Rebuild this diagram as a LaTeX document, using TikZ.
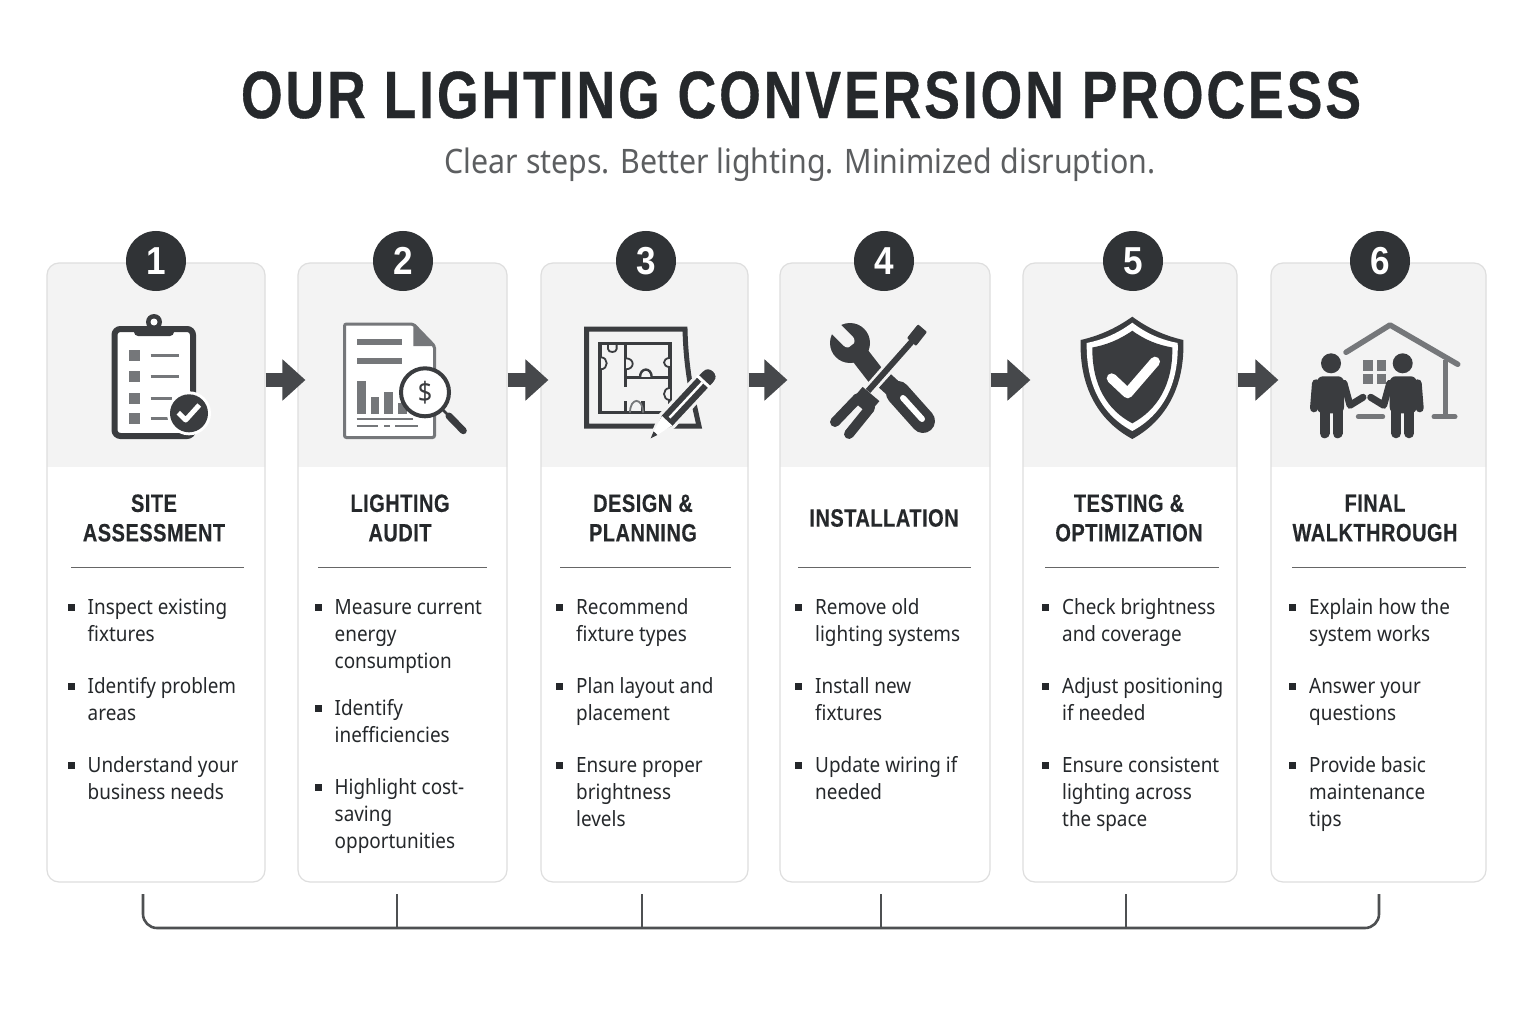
\documentclass[tikz,border=0pt]{standalone}
\usepackage{fontspec}
\setmainfont[FakeStretch=0.9]{Noto Sans}
\newfontfamily\headfont[FakeStretch=0.8,LetterSpace=2,BoldFeatures={FakeBold=0.3}]{Liberation Sans}
\newfontfamily\titlefont[FakeStretch=0.8,LetterSpace=4.3,BoldFeatures={FakeBold=0.5}]{Liberation Sans}
\newfontfamily\badgefont[FakeStretch=0.9]{Liberation Sans}
\usetikzlibrary{positioning,arrows.meta,shapes.geometric}

\begin{document}
\begin{tikzpicture}[x=1pt,y=-1pt]
  % some colors
  \definecolor{ink}{HTML}{25282B}
  \definecolor{icondark}{HTML}{3A3C3F}
  \definecolor{icongray}{HTML}{75777A}
  \definecolor{subgray}{HTML}{5C5E60}
  \definecolor{bandgray}{HTML}{F3F3F3}
  \definecolor{cardline}{HTML}{DEDEDE}
  \definecolor{arrowgray}{HTML}{46484B}
  % some styles
  \tikzset{
    card/.style={
      rectangle,
      rounded corners=12pt,
      minimum height=619pt,
      inner sep=0pt,
      draw=cardline,
      line width=1.2pt,
      fill=white,
      path picture={
        \fill[bandgray,sharp corners] (path picture bounding box.north west) rectangle ++(300pt,-204pt);
      },
    },
    badge/.style={
      circle,
      minimum size=60pt,
      inner sep=0pt,
      fill=ink!95!white,
      text=white,
      font=\fontsize{39}{39}\selectfont\badgefont\bfseries,
    },
    steptitle/.style={
      align=center,
      inner sep=0pt,
      text=ink,
      font=\fontsize{25}{29.5}\selectfont\headfont\bfseries,
    },
    rulerline/.style={gray!80!black, line width=1pt},
    stepbullet/.style={rectangle, fill=ink, minimum size=7pt, inner sep=0pt},
    stepitem/.style={
      anchor=north west,
      align=left,
      inner sep=0pt,
      text=ink,
      font=\fontsize{21}{27}\selectfont,
    },
    flow/.style={
      arrowgray,
      line width=14pt,
      shorten >=-8pt,
      -{Triangle[length=23pt,width=40pt]},
    },
    rail/.style={icondark!90!white, line width=2.6pt},
    thinbar/.style={icongray, line width=3pt},
    person/.pic={
      \fill[icondark] (0,0) circle (10);
      \fill[icondark,rounded corners=6pt] (-14,13) rectangle (13,50);
      \draw[icondark,line width=10pt,line cap=round] (-6.5,48) -- (-6.5,70);
      \draw[icondark,line width=10pt,line cap=round] (6.5,48) -- (6.5,70);
      \draw[icondark,line width=8pt,line cap=round] (-15,20) -- (-17,45);
      \draw[icondark,line width=7pt,line cap=round,line join=round] (13,20) -- (19,42) -- (32,34);
    },
  }
  % page
  \path[use as bounding box,fill=white] (0,0) rectangle (1536,1024);
  % heading
  \node[inner sep=0pt,text=ink,font=\fontsize{67}{67}\selectfont\titlefont\bfseries] (title) at (801,95) {OUR LIGHTING CONVERSION PROCESS};
  \node[inner sep=0pt,text=subgray,font=\fontsize{33.7}{33.7}\selectfont] (subtitle) at (800,165) {Clear steps. Better lighting. Minimized disruption.};
  % the six cards with their numbers
  \foreach \n/\cx/\w/\bx in {1/156/218/156,2/402.5/209/403,3/644.5/207/646,4/885/210/884,5/1130/214/1133,6/1378.5/215/1380} {
    \node[card,minimum width=\w pt] (card\n) at (\cx,572.5) {};
    \node[badge] (badge\n) at (\bx,261) {\n};
  }
  % titles
  \node[steptitle] (title1) at (154,518) {SITE\\ASSESSMENT};
  \node[steptitle] (title2) at (400,518) {LIGHTING\\AUDIT};
  \node[steptitle] (title3) at (643,518) {DESIGN \&\\PLANNING};
  \node[steptitle] (title4) at (884,518) {INSTALLATION};
  \node[steptitle] (title5) at (1129,518) {TESTING \&\\OPTIMIZATION};
  \node[steptitle] (title6) at (1375,518) {FINAL\\WALKTHROUGH};
  \foreach \a/\b in {71/244,318/487,560/731,798/971,1045/1219,1292/1466}
    \draw[rulerline] (\a,567.5) -- (\b,567.5);
  % bullet lists
  \foreach \n/\x/\yy/\txt in {
    11/71/607/{Inspect existing\\fixtures},
    12/71/686/{Identify problem\\areas},
    13/71/765/{Understand your\\business needs},
    21/318/607/{Measure current\\energy\\consumption},
    22/318/708/{Identify\\inefficiencies},
    23/318/787/{Highlight cost-\\saving\\opportunities},
    31/559.5/607/{Recommend\\fixture types},
    32/559.5/686/{Plan layout and\\placement},
    33/559.5/765/{Ensure proper\\brightness\\levels},
    41/798.5/607/{Remove old\\lighting systems},
    42/798.5/686/{Install new\\fixtures},
    43/798.5/765/{Update wiring if\\needed},
    51/1045.5/607/{Check brightness\\and coverage},
    52/1045.5/686/{Adjust positioning\\if needed},
    53/1045.5/765/{Ensure consistent\\lighting across\\the space},
    61/1292.5/607/{Explain how the\\system works},
    62/1292.5/686/{Answer your\\questions},
    63/1292.5/765/{Provide basic\\maintenance\\tips}} {
    \node[stepbullet] (b\n) at (\x,\yy) {};
    \node[stepitem] (i\n) at ([xshift=16.5pt,yshift=11.9pt]b\n.center) {\strut\txt};
  }
  % arrows between the cards
  \coordinate (midline) at (0,380);
  \foreach \a/\b in {1/2,2/3,3/4,4/5,5/6}
    \draw[flow] (card\a.east |- midline) -- (card\b.west |- midline);
  % bracket under the cards
  \coordinate (railbase) at (0,928);
  \foreach \n/\x in {1/143,2/397,3/642,4/881,5/1126,6/1379}
    \coordinate (tick\n) at (\x,894);
  \draw[rail,rounded corners=14pt] (tick1) -- (tick1 |- railbase) -- (tick6 |- railbase) -- (tick6);
  \foreach \n in {2,...,5}
    \draw[rail] (tick\n) -- (tick\n |- railbase);

  % icon 1 : clipboard
  \draw[icondark,fill=white,line width=6pt,rounded corners=6pt] (114.5,329) rectangle (193,436);
  \fill[icondark] (154,322) circle (8);
  \fill[icondark,rounded corners=4pt] (134,326) rectangle (174,336);
  \fill[white] (154,322) circle (3.5);
  \foreach \yy/\e in {355/179.3,376/179.3,398/172,418/172} {
    \fill[icongray] (129,\yy-5.5) rectangle (140,\yy+5.5);
    \draw[thinbar] (150.7,\yy) -- (\e,\yy);
  }
  \fill[white] (189,413.3) circle (22);
  \fill[icondark] (189,413.3) circle (19);
  \draw[white,line width=5pt,line join=round] (178.3,412.7) -- (185.7,420) -- (199.3,405);

  % icon 2 : report with magnifier
  \draw[icongray,fill=white,line width=3pt,rounded corners=2pt] (344.5,324) -- (413.3,324) -- (434.5,346) -- (434.5,437.5) -- (344.5,437.5) -- cycle;
  \fill[icongray] (413.3,323) -- (435.7,346) -- (413.3,346) -- cycle;
  \fill[icongray] (357.3,339.3) rectangle (401.7,345.3);
  \fill[icongray] (357.3,358) rectangle (401.7,363.7);
  \fill[icongray] (356.7,380.7) rectangle (365.7,414);
  \fill[icongray] (370.7,396.7) rectangle (379,414);
  \fill[icongray] (384.3,392) rectangle (392.7,414);
  \fill[icongray] (397.7,403.3) rectangle (406.7,414);
  \draw[icongray,line width=1.6pt] (356.7,419) -- (412.7,419);
  \draw[icongray,line width=1.6pt] (356.7,426) -- (378.3,426) (384.3,426) -- (390,426) (395,426) -- (418.3,426);
  \draw[icondark,line width=2.5pt] (443,410) -- (449,416);
  \draw[icondark,line width=7pt,line cap=round] (449,416) -- (463.3,430.7);
  \draw[icondark,fill=white,line width=4pt] (425,392.3) circle (24);
  \node[inner sep=0pt,text=icondark,font=\fontsize{28}{28}\selectfont] (dollar) at (425,392.3) {\$};

  % icon 3 : floor plan with pencil
  \draw[icondark,line width=5pt] (586.5,329) -- (685,329) .. controls (686,370) and (692,395) .. (699,426) -- (586.5,426) -- cycle;
  \draw[icondark,line width=3.5pt] (600,343.3) rectangle (670,412.7);
  \draw[icondark,line width=3.5pt] (625.7,343.3) -- (625.7,386.7) (625.7,377.3) -- (670,377.3);
  \draw[icondark,line width=3.5pt] (625.7,401) -- (625.7,412.7) (643,401) -- (643,412.7);
  % doors
  \draw[icondark,fill=bandgray,line width=1.8pt] (600.7,357.3) .. controls (608.7,357.3) and (608.7,369.3) .. (600.7,369.3);
  \draw[icondark,fill=bandgray,line width=1.8pt] (608,345) -- (608,349) .. controls (608,353) and (616.6,353) .. (616.6,349) -- (616.6,345);
  \draw[icondark,fill=bandgray,line width=1.8pt] (625.7,358.3) .. controls (635,358.3) and (635,369.3) .. (625.7,369.3);
  \draw[icondark,fill=bandgray,line width=1.8pt] (670,358) .. controls (662,358) and (662,367) .. (670,367);
  \draw[icondark,fill=bandgray,line width=1.8pt] (670,388) .. controls (662,388) and (662,400) .. (670,400);
  \draw[icondark,fill=bandgray,line width=2.4pt] (640,377.3) .. controls (640,367) and (651.7,367) .. (651.7,377.3);
  \draw[icondark!70!white,line width=1.8pt] (630,412.7) .. controls (630,397) and (643,397) .. (643,412.7);
  % pencil
  \begin{scope}[shift={(650.7,438.3)},rotate=47]
    \draw[bandgray,fill=icondark,line width=3pt,line join=round] (0,0) -- (24,-9) -- (84,-9) .. controls (96,-9) and (96,9) .. (84,9) -- (24,9) -- cycle;
    \fill[white] (7,-2.6) -- (24,-7) -- (24,7) -- (7,2.6) -- cycle;
    \fill[icondark] (0,0) -- (7,-2.6) -- (7,2.6) -- cycle;
    \fill[white] (28,-1.5) rectangle (76,1);
    \fill[white] (76,-9) rectangle (79,9);
  \end{scope}

  % icon 4 : wrench and screwdriver
  \fill[icondark] (850,343) circle (20);
  \draw[bandgray,line width=13pt,line cap=round] (848,341) -- (826,319);
  \draw[icondark,line width=19pt] (852,345) -- (876,376);
  \draw[icondark,line width=24pt,line cap=round] (898,393) -- (923,421);
  \draw[icondark,line width=18pt] (885,381) -- (896,391);
  \draw[white,line width=6pt,line cap=round] (903,398) -- (922,419);
  \draw[bandgray,line width=11pt] (908,345) -- (868,391);
  \draw[icondark,line width=6pt] (911.7,341.7) -- (868,391);
  \fill[icondark,rounded corners=1pt] (918,324.3) -- (927,332) -- (916,346) -- (907,338) -- cycle;
  \draw[icondark,line width=22pt,line cap=butt] (871,394) -- (860,407);
  \draw[icondark,line width=10pt,line cap=round] (858,398) -- (835,422);
  \draw[icondark,line width=10pt,line cap=round] (870,408) -- (849,434);

  % icon 5 : shield
  \fill[icondark] (1132.3,316.7) .. controls (1115,329) and (1098,336) .. (1080.7,340) .. controls (1079,385) and (1097,420) .. (1132.3,439) .. controls (1167,420) and (1185,385) .. (1183.3,340) .. controls (1166,336) and (1149,329) .. (1132.3,316.7) -- cycle;
  \fill[white] (1132.3,322.7) .. controls (1117,334) and (1102,340) .. (1086.7,343) .. controls (1086,385) and (1102,415) .. (1132.3,431) .. controls (1162,415) and (1179,385) .. (1177.7,343) .. controls (1162,340) and (1147,334) .. (1132.3,322.7) -- cycle;
  \fill[icondark] (1132.3,330.7) .. controls (1119,340) and (1106,345) .. (1092.3,347.5) .. controls (1092,385) and (1107,410) .. (1132.3,423.3) .. controls (1157,410) and (1173,385) .. (1172.3,347.5) .. controls (1158,345) and (1145,340) .. (1132.3,330.7) -- cycle;
  \draw[white,line width=10pt,line join=round,line cap=round] (1111.7,378.3) -- (1127.7,393.3) -- (1155,361.7);

  % icon 6 : two people at a house
  \draw[icongray,line width=5.5pt,line cap=round,line join=round] (1346,352.3) -- (1390,325) -- (1457.7,364.3);
  \draw[icongray,line width=5pt] (1445,360) -- (1445,416);
  \draw[icongray,line width=5pt,line cap=round] (1434,416.7) -- (1455,416.7);
  \draw[icongray,line width=5pt,line cap=round] (1358.3,416.7) -- (1382.7,416.7);
  \foreach \a/\b/\c/\d in {1363.3/360/1373.3/370.7,1376.7/360/1386/370.7,1363.3/374/1373.3/384,1376.7/374/1386/384}
    \fill[icongray] (\a,\b) rectangle (\c,\d);
  \path (1331,363.3) pic {person};
  \draw[bandgray,line width=3pt] (1402.7,373) -- (1386,386);
  \path (1402.7,363.3) pic[xscale=-1] {person};
\end{tikzpicture}
\end{document}
